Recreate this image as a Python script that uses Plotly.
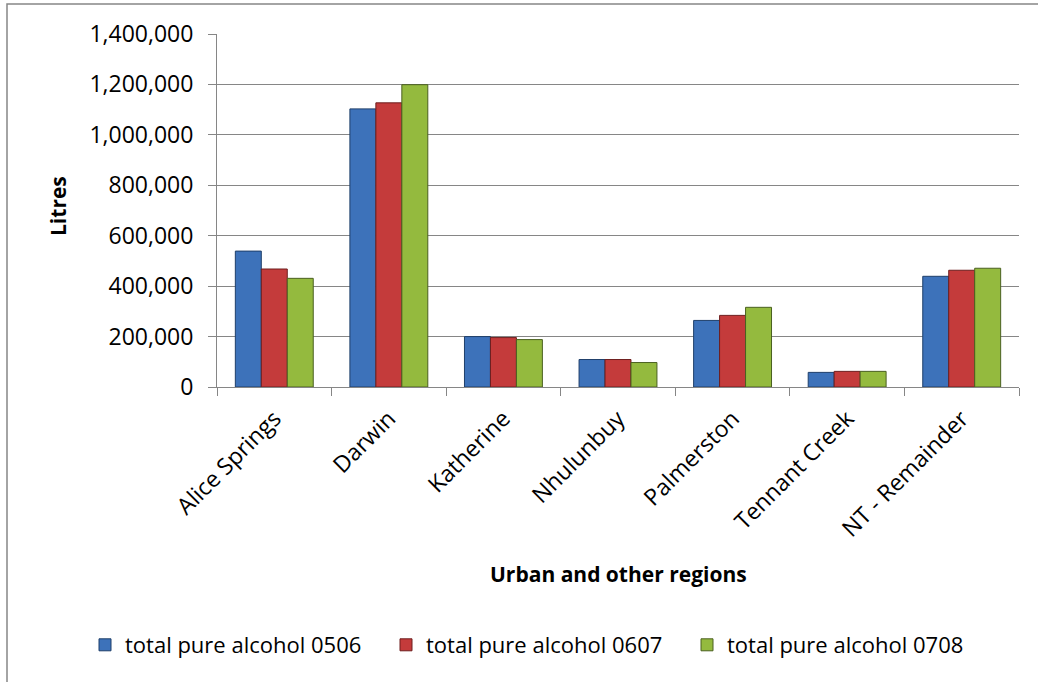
import plotly.graph_objects as go

categories = ["Alice Springs", "Darwin", "Katherine", "Nhulunbuy", "Palmerston", "Tennant Creek", "NT - Remainder"]
series_names = ["total pure alcohol 0506", "total pure alcohol 0607", "total pure alcohol 0708"]
values_0506 = [539000, 1103000, 200000, 109000, 264000, 58000, 439000]
values_0607 = [468000, 1127000, 196000, 109000, 284000, 62000, 463000]
values_0708 = [431000, 1199000, 188000, 97000, 316000, 62000, 471000]
y_ticks = [0, 200000, 400000, 600000, 800000, 1000000, 1200000, 1400000]

colors = ["#3D72BA", "#C43B3B", "#94BA3E"]
outlines = ["#1F3F6A", "#6E1E1E", "#4A6020"]
FONT = "Open Sans"
TICK = 23

fig = go.Figure()
for name, vals, c, oc in zip(series_names, [values_0506, values_0607, values_0708], colors, outlines):
    fig.add_trace(go.Bar(x=categories, y=vals, name=name,
                         marker=dict(color=c, line=dict(color=oc, width=1))))

W, H = 1038, 682
L, R, T, B = 217, 19, 34, 295
pw = W - L - R
ph = H - T - B

fig.update_layout(
    width=W, height=H,
    margin=dict(l=L, r=R, t=T, b=B, autoexpand=False),
    paper_bgcolor="white", plot_bgcolor="white",
    barmode="group", bargap=0.32, bargroupgap=0,
    font=dict(family=FONT, size=TICK, color="black"),
    showlegend=True,
    legend=dict(orientation="h", x=(85 - L) / pw, xanchor="left",
                y=-(645 - (T + ph)) / ph, yanchor="middle",
                font=dict(family=FONT, size=22, color="black"),
                entrywidth=256, entrywidthmode="pixels",
                itemwidth=30, tracegroupgap=0),
    xaxis=dict(showline=True, linecolor="#868686", linewidth=1,
               ticks="outside", tickson="boundaries", ticklen=8, tickcolor="#868686",
               tickangle=-45, showgrid=False, ticklabelstandoff=8,
               tickfont=dict(family=FONT, size=TICK, color="black")),
    yaxis=dict(range=[0, 1400000], tickvals=y_ticks,
               ticktext=[f"{v:,}" for v in y_ticks],
               showline=True, linecolor="#868686", linewidth=1,
               ticks="outside", ticklen=8, tickcolor="#868686",
               showgrid=True, gridcolor="#868686", gridwidth=1,
               zeroline=False, ticklabelstandoff=10,
               tickfont=dict(family=FONT, size=TICK, color="black")),
    annotations=[
        dict(text="<b>Litres</b>", textangle=-90, xref="paper", yref="paper",
             x=(58 - L) / pw, y=(T + ph - 206) / ph, xanchor="center", yanchor="middle",
             showarrow=False, font=dict(family=FONT, size=21, color="black")),
        dict(text="<b>Urban and other regions</b>", xref="paper", yref="paper",
             x=(618 - L) / pw, y=-(574 - (T + ph)) / ph, xanchor="center", yanchor="middle",
             showarrow=False, font=dict(family=FONT, size=21, color="black")),
    ],
    shapes=[dict(type="rect", xref="paper", yref="paper",
                 x0=(7 - L) / pw, x1=(W + 5 - L) / pw,
                 y0=-(H + 5 - (T + ph)) / ph, y1=(T + ph - 4) / ph,
                 line=dict(color="#868686", width=1.5), fillcolor="rgba(0,0,0,0)", layer="below")],
)

fig.write_html("out.html")
